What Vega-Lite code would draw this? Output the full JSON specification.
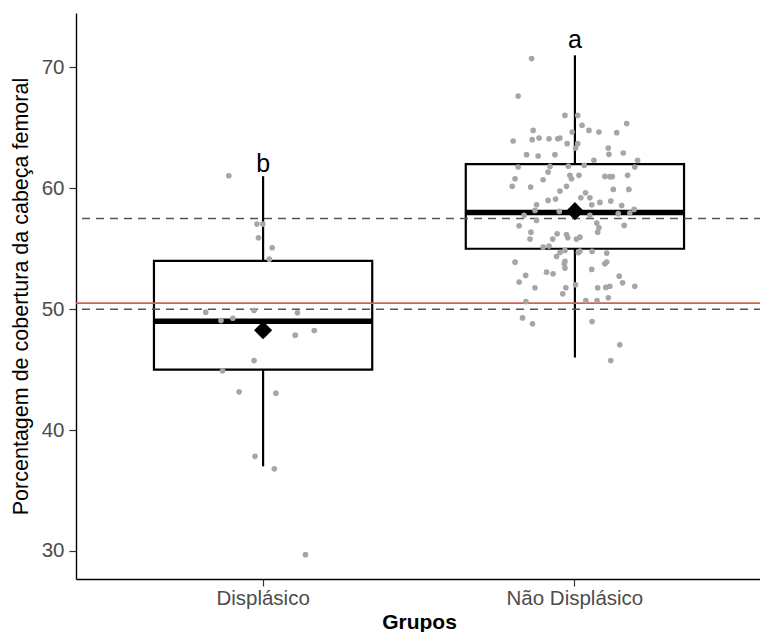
{
  "$schema": "https://vega.github.io/schema/vega-lite/v6.json",
  "autosize": {"type": "none"},
  "width": 686,
  "height": 566,
  "padding": {"left": 76, "top": 13, "right": 0, "bottom": 53},
  "background": "white",
  "config": {
    "view": {"stroke": null},
    "font": "Liberation Sans",
    "axis": {
      "grid": false,
      "domainColor": "#000000",
      "domainWidth": 1.4,
      "tickColor": "#333333",
      "tickWidth": 1.2,
      "tickSize": 7,
      "labelColor": "#4D4D4D",
      "labelFont": "Liberation Sans",
      "labelFontSize": 20.5,
      "titleFont": "Liberation Sans",
      "titleColor": "#000000",
      "titleFontSize": 21
    }
  },
  "resolve": {"scale": {"xOffset": "independent"}},
  "datasets": {
    "stats": [
      {"grupo": "Displásico", "minimo": 37, "q1": 45, "mediana": 49, "q3": 54, "maximo": 61, "media": 48.26, "letra": "b", "ytexto": 61.35},
      {"grupo": "Não Displásico", "minimo": 46, "q1": 55, "mediana": 58, "q3": 62, "maximo": 71, "media": 58.11, "letra": "a", "ytexto": 71.64}
    ],
    "refs": [
      {"tipo": "media", "valor": 50.5},
      {"tipo": "limite", "valor": 57.5},
      {"tipo": "limite", "valor": 50.0}
    ],
    "pts": [
      {"grupo": "Displásico", "jit": -0.110, "valor": 61.04},
      {"grupo": "Displásico", "jit": -0.020, "valor": 57.04},
      {"grupo": "Displásico", "jit": -0.001, "valor": 57.04},
      {"grupo": "Displásico", "jit": -0.015, "valor": 55.91},
      {"grupo": "Displásico", "jit": 0.029, "valor": 55.08},
      {"grupo": "Displásico", "jit": 0.020, "valor": 54.14},
      {"grupo": "Displásico", "jit": -0.184, "valor": 49.75},
      {"grupo": "Displásico", "jit": -0.135, "valor": 49.06},
      {"grupo": "Displásico", "jit": -0.097, "valor": 49.25},
      {"grupo": "Displásico", "jit": -0.029, "valor": 49.89},
      {"grupo": "Displásico", "jit": 0.110, "valor": 49.70},
      {"grupo": "Displásico", "jit": 0.103, "valor": 47.85},
      {"grupo": "Displásico", "jit": 0.164, "valor": 48.24},
      {"grupo": "Displásico", "jit": -0.029, "valor": 45.75},
      {"grupo": "Displásico", "jit": -0.130, "valor": 44.90},
      {"grupo": "Displásico", "jit": -0.077, "valor": 43.16},
      {"grupo": "Displásico", "jit": 0.041, "valor": 43.05},
      {"grupo": "Displásico", "jit": -0.026, "valor": 37.83},
      {"grupo": "Displásico", "jit": 0.036, "valor": 36.79},
      {"grupo": "Displásico", "jit": 0.136, "valor": 29.69},
      {"grupo": "Não Displásico", "jit": -0.139, "valor": 70.73},
      {"grupo": "Não Displásico", "jit": -0.182, "valor": 67.63},
      {"grupo": "Não Displásico", "jit": -0.032, "valor": 66.03},
      {"grupo": "Não Displásico", "jit": 0.009, "valor": 66.03},
      {"grupo": "Não Displásico", "jit": 0.023, "valor": 65.21},
      {"grupo": "Não Displásico", "jit": -0.134, "valor": 64.79},
      {"grupo": "Não Displásico", "jit": 0.045, "valor": 64.79},
      {"grupo": "Não Displásico", "jit": 0.077, "valor": 64.65},
      {"grupo": "Não Displásico", "jit": 0.134, "valor": 64.60},
      {"grupo": "Não Displásico", "jit": 0.166, "valor": 65.35},
      {"grupo": "Não Displásico", "jit": -0.009, "valor": 64.65},
      {"grupo": "Não Displásico", "jit": -0.198, "valor": 63.91},
      {"grupo": "Não Displásico", "jit": -0.137, "valor": 64.02},
      {"grupo": "Não Displásico", "jit": -0.115, "valor": 64.16},
      {"grupo": "Não Displásico", "jit": -0.083, "valor": 64.10},
      {"grupo": "Não Displásico", "jit": -0.055, "valor": 64.10},
      {"grupo": "Não Displásico", "jit": -0.048, "valor": 64.16},
      {"grupo": "Não Displásico", "jit": -0.025, "valor": 63.69},
      {"grupo": "Não Displásico", "jit": 0.009, "valor": 63.69},
      {"grupo": "Não Displásico", "jit": 0.002, "valor": 63.33},
      {"grupo": "Não Displásico", "jit": 0.107, "valor": 63.33},
      {"grupo": "Não Displásico", "jit": 0.109, "valor": 62.81},
      {"grupo": "Não Displásico", "jit": 0.155, "valor": 62.92},
      {"grupo": "Não Displásico", "jit": -0.155, "valor": 62.78},
      {"grupo": "Não Displásico", "jit": -0.118, "valor": 62.67},
      {"grupo": "Não Displásico", "jit": -0.064, "valor": 62.78},
      {"grupo": "Não Displásico", "jit": 0.061, "valor": 62.31},
      {"grupo": "Não Displásico", "jit": 0.201, "valor": 62.31},
      {"grupo": "Não Displásico", "jit": -0.182, "valor": 61.76},
      {"grupo": "Não Displásico", "jit": -0.080, "valor": 61.81},
      {"grupo": "Não Displásico", "jit": -0.021, "valor": 61.83},
      {"grupo": "Não Displásico", "jit": 0.030, "valor": 61.90},
      {"grupo": "Não Displásico", "jit": 0.192, "valor": 61.76},
      {"grupo": "Não Displásico", "jit": -0.086, "valor": 61.34},
      {"grupo": "Não Displásico", "jit": -0.016, "valor": 61.07},
      {"grupo": "Não Displásico", "jit": -0.011, "valor": 60.79},
      {"grupo": "Não Displásico", "jit": 0.013, "valor": 61.07},
      {"grupo": "Não Displásico", "jit": 0.096, "valor": 60.98},
      {"grupo": "Não Displásico", "jit": 0.112, "valor": 60.96},
      {"grupo": "Não Displásico", "jit": 0.120, "valor": 60.96},
      {"grupo": "Não Displásico", "jit": 0.169, "valor": 61.07},
      {"grupo": "Não Displásico", "jit": -0.192, "valor": 60.79},
      {"grupo": "Não Displásico", "jit": -0.201, "valor": 60.16},
      {"grupo": "Não Displásico", "jit": -0.142, "valor": 60.10},
      {"grupo": "Não Displásico", "jit": -0.102, "valor": 60.71},
      {"grupo": "Não Displásico", "jit": 0.123, "valor": 59.91},
      {"grupo": "Não Displásico", "jit": 0.173, "valor": 59.91},
      {"grupo": "Não Displásico", "jit": -0.027, "valor": 60.16},
      {"grupo": "Não Displásico", "jit": -0.048, "valor": 59.77},
      {"grupo": "Não Displásico", "jit": 0.034, "valor": 59.63},
      {"grupo": "Não Displásico", "jit": 0.019, "valor": 59.22},
      {"grupo": "Não Displásico", "jit": 0.048, "valor": 59.22},
      {"grupo": "Não Displásico", "jit": -0.086, "valor": 59.00},
      {"grupo": "Não Displásico", "jit": -0.062, "valor": 59.11},
      {"grupo": "Não Displásico", "jit": 0.054, "valor": 58.64},
      {"grupo": "Não Displásico", "jit": 0.080, "valor": 58.83},
      {"grupo": "Não Displásico", "jit": 0.115, "valor": 58.94},
      {"grupo": "Não Displásico", "jit": -0.123, "valor": 58.64},
      {"grupo": "Não Displásico", "jit": -0.128, "valor": 58.17},
      {"grupo": "Não Displásico", "jit": 0.150, "valor": 58.58},
      {"grupo": "Não Displásico", "jit": -0.050, "valor": 58.09},
      {"grupo": "Não Displásico", "jit": -0.163, "valor": 57.76},
      {"grupo": "Não Displásico", "jit": 0.048, "valor": 57.76},
      {"grupo": "Não Displásico", "jit": 0.139, "valor": 57.90},
      {"grupo": "Não Displásico", "jit": 0.176, "valor": 57.95},
      {"grupo": "Não Displásico", "jit": 0.190, "valor": 58.25},
      {"grupo": "Não Displásico", "jit": -0.123, "valor": 57.34},
      {"grupo": "Não Displásico", "jit": -0.179, "valor": 56.90},
      {"grupo": "Não Displásico", "jit": 0.070, "valor": 57.12},
      {"grupo": "Não Displásico", "jit": 0.077, "valor": 56.74},
      {"grupo": "Não Displásico", "jit": 0.073, "valor": 56.37},
      {"grupo": "Não Displásico", "jit": 0.158, "valor": 56.93},
      {"grupo": "Não Displásico", "jit": -0.141, "valor": 56.37},
      {"grupo": "Não Displásico", "jit": -0.057, "valor": 56.24},
      {"grupo": "Não Displásico", "jit": -0.027, "valor": 56.18},
      {"grupo": "Não Displásico", "jit": -0.144, "valor": 55.80},
      {"grupo": "Não Displásico", "jit": -0.071, "valor": 55.80},
      {"grupo": "Não Displásico", "jit": -0.023, "valor": 55.91},
      {"grupo": "Não Displásico", "jit": 0.005, "valor": 55.80},
      {"grupo": "Não Displásico", "jit": 0.016, "valor": 55.96},
      {"grupo": "Não Displásico", "jit": -0.102, "valor": 55.13},
      {"grupo": "Não Displásico", "jit": -0.083, "valor": 55.22},
      {"grupo": "Não Displásico", "jit": -0.032, "valor": 54.86},
      {"grupo": "Não Displásico", "jit": -0.059, "valor": 54.36},
      {"grupo": "Não Displásico", "jit": 0.016, "valor": 54.80},
      {"grupo": "Não Displásico", "jit": 0.055, "valor": 54.78},
      {"grupo": "Não Displásico", "jit": 0.102, "valor": 54.64},
      {"grupo": "Não Displásico", "jit": -0.048, "valor": 54.69},
      {"grupo": "Não Displásico", "jit": 0.011, "valor": 54.67},
      {"grupo": "Não Displásico", "jit": -0.192, "valor": 53.89},
      {"grupo": "Não Displásico", "jit": -0.032, "valor": 53.95},
      {"grupo": "Não Displásico", "jit": 0.102, "valor": 53.90},
      {"grupo": "Não Displásico", "jit": 0.096, "valor": 53.75},
      {"grupo": "Não Displásico", "jit": -0.034, "valor": 53.76},
      {"grupo": "Não Displásico", "jit": -0.091, "valor": 53.06},
      {"grupo": "Não Displásico", "jit": -0.070, "valor": 52.93},
      {"grupo": "Não Displásico", "jit": -0.032, "valor": 53.40},
      {"grupo": "Não Displásico", "jit": 0.054, "valor": 53.29},
      {"grupo": "Não Displásico", "jit": -0.158, "valor": 52.79},
      {"grupo": "Não Displásico", "jit": -0.179, "valor": 52.24},
      {"grupo": "Não Displásico", "jit": -0.128, "valor": 51.77},
      {"grupo": "Não Displásico", "jit": -0.029, "valor": 51.77},
      {"grupo": "Não Displásico", "jit": -0.039, "valor": 51.27},
      {"grupo": "Não Displásico", "jit": 0.002, "valor": 52.02},
      {"grupo": "Não Displásico", "jit": 0.073, "valor": 51.77},
      {"grupo": "Não Displásico", "jit": 0.099, "valor": 51.80},
      {"grupo": "Não Displásico", "jit": 0.112, "valor": 51.90},
      {"grupo": "Não Displásico", "jit": 0.142, "valor": 52.73},
      {"grupo": "Não Displásico", "jit": 0.153, "valor": 52.18},
      {"grupo": "Não Displásico", "jit": 0.192, "valor": 51.90},
      {"grupo": "Não Displásico", "jit": -0.157, "valor": 50.63},
      {"grupo": "Não Displásico", "jit": 0.035, "valor": 50.72},
      {"grupo": "Não Displásico", "jit": 0.071, "valor": 50.72},
      {"grupo": "Não Displásico", "jit": 0.107, "valor": 50.94},
      {"grupo": "Não Displásico", "jit": -0.168, "valor": 49.28},
      {"grupo": "Não Displásico", "jit": -0.136, "valor": 48.79},
      {"grupo": "Não Displásico", "jit": 0.055, "valor": 48.98},
      {"grupo": "Não Displásico", "jit": 0.144, "valor": 47.05},
      {"grupo": "Não Displásico", "jit": 0.115, "valor": 45.75}
    ]
  },
  "encoding": {
    "x": {
      "field": "grupo",
      "type": "nominal",
      "sort": ["Displásico", "Não Displásico"],
      "scale": {"domain": ["Displásico", "Não Displásico"], "paddingInner": 0.3, "paddingOuter": 0.25},
      "axis": {"title": "Grupos", "titleFontWeight": "bold", "labelAngle": 0, "labelPadding": 2, "titlePadding": 3}
    }
  },
  "layer": [
    {
      "data": {"name": "stats"},
      "mark": {"type": "rule", "color": "#000000", "strokeWidth": 2.2},
      "encoding": {
        "y": {"field": "minimo", "type": "quantitative", "scale": {"domain": [27.68, 74.5], "nice": false, "zero": false},
              "axis": {"title": "Porcentagem de cobertura da cabeça femoral", "titleFontWeight": "normal", "titleFontSize": 21.5, "values": [30, 40, 50, 60, 70], "labelPadding": 5, "titlePadding": 9}},
        "y2": {"field": "q1"}
      }
    },
    {
      "data": {"name": "stats"},
      "mark": {"type": "rule", "color": "#000000", "strokeWidth": 2.2},
      "encoding": {
        "y": {"field": "q3", "type": "quantitative"},
        "y2": {"field": "maximo"}
      }
    },
    {
      "data": {"name": "stats"},
      "mark": {"type": "bar", "fill": "#FFFFFF", "stroke": "#000000", "strokeWidth": 2.2},
      "encoding": {
        "y": {"field": "q1", "type": "quantitative"},
        "y2": {"field": "q3"}
      }
    },
    {
      "data": {"name": "stats"},
      "mark": {"type": "bar", "fill": "#000000", "stroke": "#000000", "strokeWidth": 5.5},
      "encoding": {
        "y": {"field": "mediana", "type": "quantitative"},
        "y2": {"field": "mediana"}
      }
    },
    {
      "data": {"name": "refs"},
      "transform": [{"filter": "datum.tipo === 'media'"}],
      "mark": {"type": "rule", "color": "#D0654F", "strokeWidth": 1.6},
      "encoding": {"y": {"field": "valor", "type": "quantitative"}, "x": null}
    },
    {
      "data": {"name": "refs"},
      "transform": [{"filter": "datum.tipo === 'limite'"}],
      "mark": {"type": "rule", "color": "#555555", "strokeWidth": 1.6, "strokeDash": [8, 6]},
      "encoding": {"y": {"field": "valor", "type": "quantitative"}, "x": null}
    },
    {
      "data": {"name": "pts"},
      "mark": {"type": "circle", "color": "#A6A6A6", "opacity": 1, "size": 32},
      "encoding": {
        "y": {"field": "valor", "type": "quantitative"},
        "xOffset": {"field": "jit", "type": "quantitative", "scale": {"domain": [-0.35, 0.35]}}
      }
    },
    {
      "data": {"name": "stats"},
      "mark": {"type": "point", "shape": "diamond", "filled": true, "color": "#000000", "opacity": 1, "size": 330},
      "encoding": {"y": {"field": "media", "type": "quantitative"}}
    },
    {
      "data": {"name": "stats"},
      "mark": {"type": "text", "fontSize": 25, "color": "#000000", "baseline": "alphabetic", "font": "Liberation Sans"},
      "encoding": {"y": {"field": "ytexto", "type": "quantitative"}, "text": {"field": "letra"}}
    }
  ]
}
